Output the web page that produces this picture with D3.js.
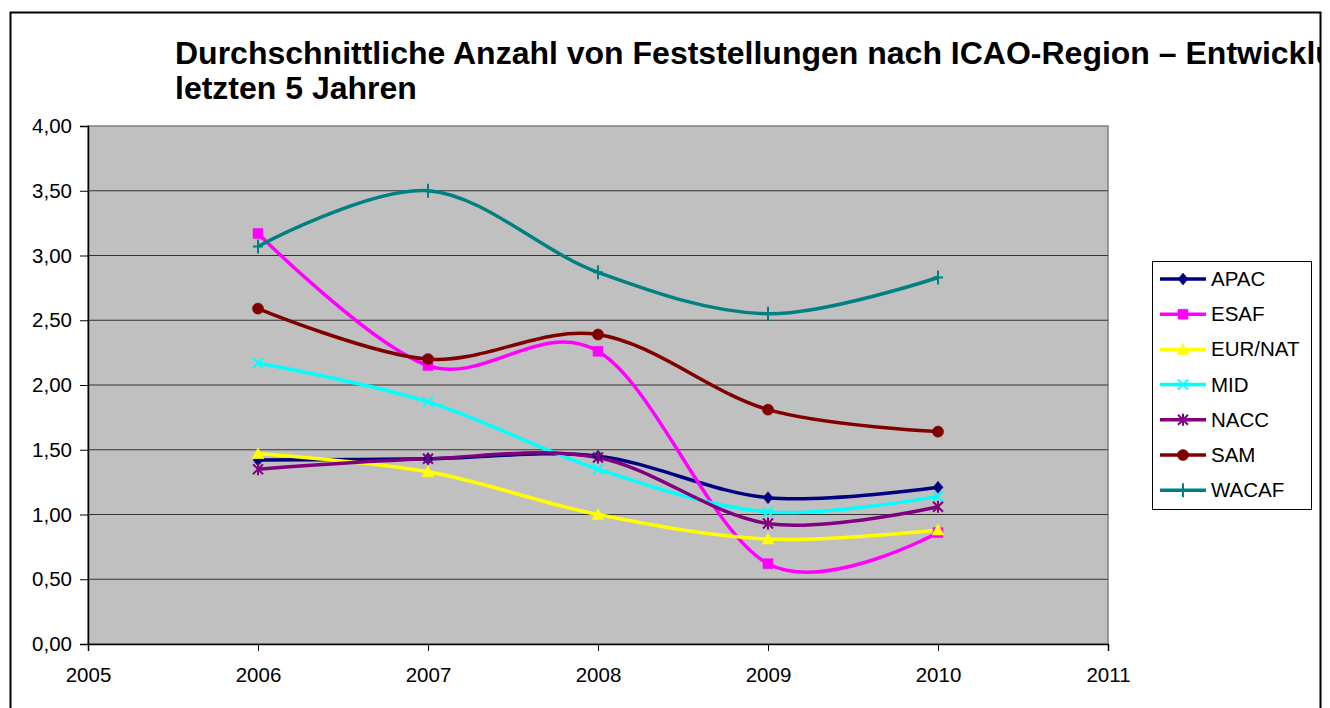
<!DOCTYPE html>
<html>
<head>
<meta charset="utf-8">
<script src="https://d3js.org/d3.v7.min.js"></script>
<style>
  body { margin: 0; background: #fff; }
  text { font-family: "Liberation Sans", Arial, sans-serif; fill: #000; }
</style>
</head>
<body>
<div id="chart"></div>
<script>
  // data
  var years = [2006, 2007, 2008, 2009, 2010];
  var regions = ["APAC", "ESAF", "EUR/NAT", "MID", "NACC", "SAM", "WACAF"];
  var apac   = [1.42, 1.43, 1.45, 1.13, 1.21];
  var esaf   = [3.17, 2.15, 2.26, 0.62, 0.86];
  var eurnat = [1.47, 1.33, 1.00, 0.81, 0.88];
  var mid    = [2.17, 1.87, 1.35, 1.02, 1.14];
  var nacc   = [1.35, 1.43, 1.44, 0.93, 1.06];
  var sam    = [2.59, 2.20, 2.39, 1.81, 1.64];
  var wacaf  = [3.07, 3.50, 2.87, 2.55, 2.83];
  var xTicks = [2005, 2006, 2007, 2008, 2009, 2010, 2011];
  var yTicks = [0, 0.5, 1, 1.5, 2, 2.5, 3, 3.5, 4];
  var colors = ["#000080", "#ff00ff", "#ffff00", "#00ffff", "#800080", "#800000", "#008080"];
  var markers = ["diamond", "square", "triangle", "x", "star", "circle", "plus"];
  var allValues = [apac, esaf, eurnat, mid, nacc, sam, wacaf];

  var W = 1330, H = 708;
  var pLeft = 88, pRight = 1108, pTop = 126, pBottom = 644;

  var svg = d3.select("#chart").append("svg").attr("width", W).attr("height", H);

  var x = d3.scaleLinear().domain([2005, 2011]).range([pLeft, pRight]);
  var y = d3.scaleLinear().domain([0, 4]).range([pBottom, pTop]);

  // outer frame
  svg.append("clipPath").attr("id", "frame")
    .append("rect").attr("x", 11).attr("y", 13).attr("width", 1309).attr("height", 720);
  svg.append("rect").attr("x", 10.5).attr("y", 12.5).attr("width", 1310).attr("height", 720)
    .attr("fill", "none").attr("stroke", "#000").attr("stroke-width", 2);

  // title
  var title = svg.append("text").attr("clip-path", "url(#frame)")
    .attr("font-size", 32).attr("font-weight", "bold");
  title.append("tspan").attr("x", 175).attr("y", 64)
    .text("Durchschnittliche Anzahl von Feststellungen nach ICAO-Region – Entwicklung in den");
  title.append("tspan").attr("x", 175).attr("y", 99).text("letzten 5 Jahren");

  // plot area
  svg.append("rect").attr("x", pLeft).attr("y", pTop)
    .attr("width", pRight - pLeft).attr("height", pBottom - pTop)
    .attr("fill", "#c0c0c0").attr("stroke", "#808080").attr("stroke-width", 1.5);

  svg.append("g").selectAll("line").data(yTicks.filter(function(d) { return d > 0 && d < 4; }))
    .enter().append("line")
    .attr("x1", pLeft).attr("x2", pRight)
    .attr("y1", function(d) { return y(d); }).attr("y2", function(d) { return y(d); })
    .attr("stroke", "#333").attr("stroke-width", 1.2);

  var fmt = function(d) { return d3.format(".2f")(d).replace(".", ","); };

  var yAxis = d3.axisLeft(y).tickValues(yTicks).tickFormat(fmt).tickSize(8).tickPadding(8);
  var gy = svg.append("g").attr("transform", "translate(" + pLeft + ",0)").call(yAxis);
  var xAxis = d3.axisBottom(x).tickValues(xTicks).tickFormat(d3.format("d")).tickSize(7).tickPadding(16);
  var gx = svg.append("g").attr("transform", "translate(0," + pBottom + ")").call(xAxis);
  [gx, gy].forEach(function(g) {
    g.select(".domain").attr("stroke", "#000").attr("stroke-width", 1.5);
    g.selectAll(".tick line").attr("stroke", "#000");
    g.selectAll("text").attr("font-size", 20.5).attr("font-family", "Liberation Sans, Arial, sans-serif").attr("fill", "#000");
  });

  function markerPath(type, s) {
    var h = s / 2;
    if (type == "diamond") return "M0," + (-h - 1) + "L" + h + ",0L0," + (h + 1) + "L" + (-h) + ",0Z";
    if (type == "square") return "M" + (-h) + "," + (-h) + "h" + s + "v" + s + "h" + (-s) + "Z";
    if (type == "triangle") return "M0," + (-h - 1) + "L" + (h + 1) + "," + (h) + "L" + (-h - 1) + "," + (h) + "Z";
    if (type == "circle") return d3.symbol(d3.symbolCircle, Math.PI * h * h * 1.25)();
    if (type == "x") return "M" + (-h) + "," + (-h) + "L" + h + "," + h + "M" + h + "," + (-h) + "L" + (-h) + "," + h;
    if (type == "star") return "M" + (-h) + "," + (-h) + "L" + h + "," + h + "M" + h + "," + (-h) + "L" + (-h) + "," + h + "M0," + (-h - 1) + "V" + (h + 1);
    if (type == "plus") return "M" + (-h) + ",0H" + h + "M0," + (-h - 2) + "V" + (h + 2);
  }
  function drawMarker(g, type, color, cx, cy, s) {
    var filled = ["diamond", "square", "triangle", "circle"].indexOf(type) >= 0;
    g.append("path").attr("d", markerPath(type, s))
      .attr("transform", "translate(" + cx + "," + cy + ")")
      .attr("fill", filled ? color : "none")
      .attr("stroke", color).attr("stroke-width", filled ? 0.5 : 2);
  }

  var line = d3.line()
    .x(function(d, i) { return x(years[i]); })
    .y(function(d) { return y(d); })
    .curve(d3.curveCatmullRom.alpha(0));

  var series = svg.append("g");
  allValues.forEach(function(vals, k) {
    series.append("path").attr("d", line(vals))
      .attr("fill", "none").attr("stroke", colors[k]).attr("stroke-width", 3.5)
      .attr("stroke-linejoin", "round");
  });
  allValues.forEach(function(vals, k) {
    vals.forEach(function(v, i) {
      drawMarker(series, markers[k], colors[k], x(years[i]), y(v), 10);
    });
  });

  // legend
  var lg = svg.append("g");
  lg.append("rect").attr("x", 1152.5).attr("y", 261.5).attr("width", 159).attr("height", 248)
    .attr("fill", "#fff").attr("stroke", "#000").attr("stroke-width", 1);
  regions.forEach(function(r, k) {
    var ly = 279 + k * 35.2;
    lg.append("line").attr("x1", 1160).attr("x2", 1206).attr("y1", ly).attr("y2", ly)
      .attr("stroke", colors[k]).attr("stroke-width", 3.5);
    drawMarker(lg, markers[k], colors[k], 1183, ly, 10);
    lg.append("text").attr("x", 1211).attr("y", ly + 7).attr("font-size", 20.5).text(r);
  });
</script>
</body>
</html>
